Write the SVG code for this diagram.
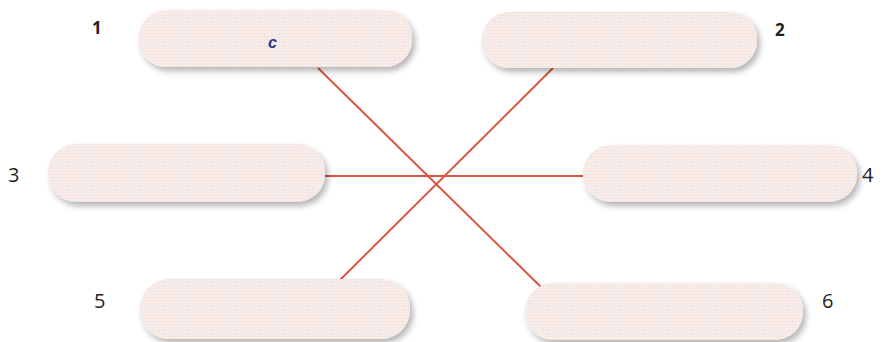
<svg xmlns="http://www.w3.org/2000/svg" width="890" height="342" viewBox="0 0 890 342">
<defs>
<filter id="sh" x="-10%" y="-30%" width="125%" height="170%">
<feGaussianBlur in="SourceAlpha" stdDeviation="3"/>
<feOffset dx="3" dy="4" result="b"/>
<feComponentTransfer><feFuncA type="linear" slope="0.3"/></feComponentTransfer>
<feMerge><feMergeNode/><feMergeNode in="SourceGraphic"/></feMerge>
</filter>
<pattern id="grid" width="3" height="3" patternUnits="userSpaceOnUse">
<rect width="3" height="3" fill="#f8eeeb"/>
<path d="M0 0.5H3M0.5 0V3" stroke="#f1e2de" stroke-width="0.6"/>
</pattern>
</defs>
<style>
.box{fill:url(#grid);filter:url(#sh)}
.num{font-family:"Open Sans",sans-serif;fill:#222;font-size:20px}
.numb{font-family:"Open Sans",sans-serif;fill:#222;font-size:17px;font-weight:bold}
.conn line{stroke:#d9553f;stroke-width:2}
</style>
<rect width="890" height="342" fill="#ffffff"/>
<g class="conn">
<line x1="318" y1="68" x2="541" y2="287"/>
<line x1="553" y1="68" x2="340" y2="280"/>
<line x1="325" y1="176" x2="583" y2="176"/>
</g>
<g id="node1"><rect class="box" x="139" y="10" width="273" height="57" rx="27"/><text class="numb" x="92" y="34">1</text><text x="268" y="48" font-family="Liberation Sans, sans-serif" font-style="italic" font-weight="bold" font-size="16" fill="#2b3a8f">c</text></g>
<g id="node2"><rect class="box" x="482" y="12" width="275" height="56" rx="27"/><text class="numb" x="775" y="36">2</text></g>
<g id="node3"><rect class="box" x="48" y="144" width="277" height="58" rx="28"/><text class="num" x="8" y="182">3</text></g>
<g id="node4"><rect class="box" x="583" y="145" width="274" height="57" rx="28"/><text class="num" x="862" y="182">4</text></g>
<g id="node5"><rect class="box" x="140" y="279" width="270" height="60" rx="29"/><text class="num" x="94" y="308">5</text></g>
<g id="node6"><rect class="box" x="525" y="283" width="278" height="57" rx="28"/><text class="num" x="822" y="308">6</text></g>
</svg>
